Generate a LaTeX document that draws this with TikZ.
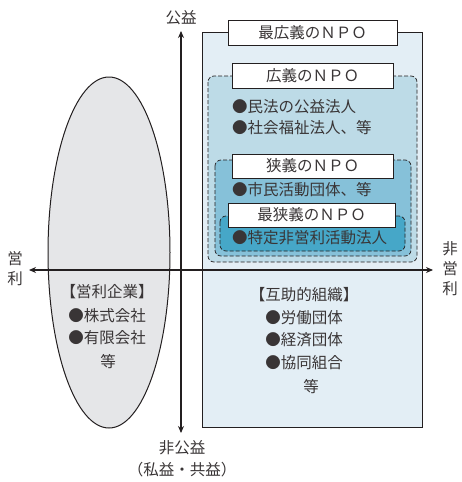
\documentclass[tikz,border=0pt]{standalone}
\usepackage{fontspec}
\setmainfont{Noto Sans CJK JP}
\usetikzlibrary{arrows.meta}
\definecolor{boxA}{HTML}{E3EEF5}
\definecolor{boxB}{HTML}{BDDBE7}
\definecolor{boxC}{HTML}{86C1D9}
\definecolor{boxD}{HTML}{46A7C8}
\definecolor{ellG}{HTML}{E5E6E8}
\definecolor{ink}{HTML}{231F20}
\tikzset{
  titlebox/.style={draw=ink, line width=1pt, fill=white, inner sep=0pt, font=\fontsize{15.5}{18}\selectfont, text=ink!90},
  dashbox/.style={draw=ink, line width=0.7pt, dash pattern=on 4pt off 2pt, rounded corners=6pt},
  txt/.style={inner sep=0pt, font=\fontsize{15.5}{18}\selectfont, text=ink!90},
  axis/.style={draw=ink, line width=1.1pt},
  tip/.style={-{Stealth[length=7pt,width=6pt]}}
}
\begin{document}
\begin{tikzpicture}[x=1pt,y=-1pt]
\useasboundingbox (0,0) rectangle (461,482);
% ellipse
\draw[fill=ellG, draw=ink, line width=1pt] (109,252.5) ellipse [x radius=61, y radius=175.5];
% outer box
\draw[fill=boxA, draw=ink, line width=1pt] (202,32) rectangle (422,427);
% dashed boxes
\draw[dashbox, fill=boxB] (208,76) rectangle (417,262);
\draw[dashbox, fill=boxC] (215,160) rectangle (411,256);
\draw[dashbox, fill=boxD] (220,216) rectangle (405,251);
% title boxes
\node[titlebox, minimum width=169pt, minimum height=25pt] (t1) at (312.5,32.5) {最広義のＮＰＯ};
\node[titlebox, minimum width=161pt, minimum height=25pt] (t2) at (312.5,75.5) {広義のＮＰＯ};
\node[titlebox, minimum width=161pt, minimum height=24pt] (t3) at (312.5,166) {狭義のＮＰＯ};
\node[titlebox, minimum width=167pt, minimum height=24pt] (t4) at (311.5,215) {最狭義のＮＰＯ};
% bullets in NPO boxes
\node[txt, anchor=west] (b1) at (232,107) {●民法の公益法人};
\node[txt, anchor=west] (b2) at (232,128) {●社会福祉法人、等};
\node[txt, anchor=west] (b3) at (232,190) {●市民活動団体、等};
\node[txt, anchor=west] (b4) at (232,238) {●特定非営利活動法人};
% axes
\coordinate (L) at (29,270);
\coordinate (R) at (433,270);
\coordinate (T) at (181,31);
\coordinate (B) at (181,433);
\draw[axis, tip] (181,270) -- (L);
\draw[axis, tip] (181,270) -- (R);
\draw[axis, tip] (181,270) -- (T);
\draw[axis, tip] (181,270) -- (B);
% axis labels
\node[txt] (kou) at (181,18) {公益};
\node[txt] (eiri1) at (15,259) {営};
\node[txt] (eiri2) at (15,279) {利};
\node[txt] (hie1) at (450,249) {非};
\node[txt] (hie2) at (450,269) {営};
\node[txt] (hie3) at (450,289) {利};
\node[txt] (hikou) at (182,448) {非公益};
\node[txt] (shieki) at (182,470) {（私益・共益）};
% ellipse text
\node[txt] (e1) at (107,292) {【営利企業】};
\node[txt] (e2) at (107,316) {●株式会社};
\node[txt] (e3) at (107,338) {●有限会社};
\node[txt] (e4) at (108,362) {等};
% right box text
\node[txt] (r1) at (304,295) {【互助的組織】};
\node[txt] (r2) at (304,318) {●労働団体};
\node[txt] (r3) at (304,340) {●経済団体};
\node[txt] (r4) at (304,363) {●協同組合};
\node[txt] (r5) at (311,387) {等};
\end{tikzpicture}
\end{document}
